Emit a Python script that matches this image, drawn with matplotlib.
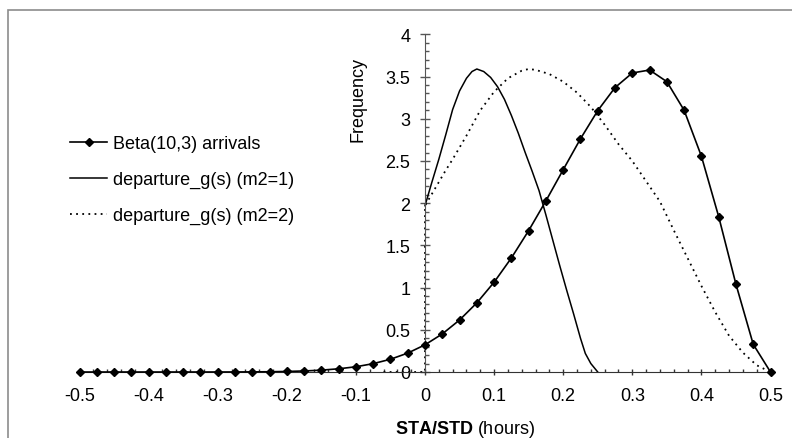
import numpy as np
import matplotlib
matplotlib.use('Agg')
import matplotlib.pyplot as plt
from matplotlib.patches import Rectangle
from matplotlib.ticker import MultipleLocator, FuncFormatter

plt.rcParams['font.family'] = ['Liberation Sans', 'DejaVu Sans']
plt.rcParams['mathtext.fontset'] = 'custom'
plt.rcParams['mathtext.rm'] = 'Liberation Sans'
plt.rcParams['mathtext.bf'] = 'Liberation Sans:bold'

## Beta(10,3) arrivals, one marker every 0.025 h
arr_s = np.round(np.linspace(-0.5, 0.5, 41), 3)
arr_f = [0.0, 0.0, 0.0, 0.0, 0.0, 0.0, 0.0, 0.0001, 0.0002, 0.0006,
         0.0014, 0.0031, 0.0064, 0.0122, 0.022, 0.038, 0.062, 0.099, 0.151, 0.224,
         0.322, 0.451, 0.616, 0.819, 1.064, 1.351, 1.675, 2.028, 2.397, 2.763,
         3.097, 3.370, 3.543, 3.578, 3.440, 3.101, 2.557, 1.841, 1.040, 0.328, 0.0]

## departure_g(s), m2=1
dep1_s = [0.0, 0.01, 0.02, 0.03, 0.04, 0.05, 0.06, 0.068, 0.075, 0.085,
          0.095, 0.105, 0.115, 0.125, 0.135, 0.145, 0.155, 0.165, 0.175, 0.185,
          0.195, 0.205, 0.215, 0.225, 0.232, 0.24, 0.25]
dep1_f = [1.97, 2.25, 2.52, 2.81, 3.11, 3.33, 3.48, 3.56, 3.59, 3.56,
          3.49, 3.38, 3.23, 3.04, 2.83, 2.60, 2.38, 2.15, 1.86, 1.56,
          1.26, 0.97, 0.69, 0.40, 0.22, 0.10, 0.0]

## departure_g(s), m2=2
dep2_s = [-0.06, -0.03, 0.0, 0.0, 0.01, 0.02, 0.03, 0.04, 0.05, 0.06,
          0.08, 0.10, 0.12, 0.14, 0.15, 0.16, 0.18, 0.20, 0.22, 0.24,
          0.26, 0.28, 0.30, 0.32, 0.34, 0.36, 0.38, 0.40, 0.42, 0.44,
          0.46, 0.48, 0.50]
dep2_f = [0.0, 0.0, 0.0, 1.97, 2.11, 2.25, 2.39, 2.52, 2.66, 2.80,
          3.10, 3.32, 3.48, 3.57, 3.59, 3.58, 3.53, 3.44, 3.31, 3.14,
          2.93, 2.70, 2.50, 2.26, 2.02, 1.68, 1.35, 1.02, 0.71, 0.43,
          0.23, 0.08, 0.0]

W, H = 792., 439.
fs = 13
fig = plt.figure(figsize=(W / 100, H / 100), dpi=100)
## grey frame round the chart (right/bottom edges run off the picture)
fig.patches.append(Rectangle((8 / W, -0.05), 1.2, 1 - 11 / H + 0.05,
                             transform=fig.transFigure, fill=False,
                             edgecolor='#8c8c8c', lw=1.2))

ax = fig.add_axes([79.5 / W, 66 / H, 691 / W, 337.6 / H])
ax.set_xlim(-0.5, 0.5)
ax.set_ylim(0, 4)

ax.plot(dep1_s, dep1_f, '-', color='black', lw=1.1,
        label='departure_g(s) (m2=1)')
ax.plot(dep2_s, dep2_f, color='black', lw=1.3, linestyle=(0, (1, 2.4)),
        label='departure_g(s) (m2=2)')
ax.plot(arr_s, arr_f, '-', color='black', lw=1.2, marker='D', ms=4,
        clip_on=False, label='Beta(10,3) arrivals', zorder=5)

## axes cross at zero
for s in ['top', 'right']:
    ax.spines[s].set_visible(False)
ax.spines['left'].set_position(('data', 0))
ax.spines['left'].set_color('#555555')
ax.spines['bottom'].set_color('#333333')

ax.xaxis.set_major_locator(MultipleLocator(0.1))
ax.xaxis.set_minor_locator(MultipleLocator(0.02))
ax.yaxis.set_major_locator(MultipleLocator(0.5))
ax.yaxis.set_minor_locator(MultipleLocator(0.1))
fmt = FuncFormatter(lambda v, p: '%g' % round(v, 3))
ax.xaxis.set_major_formatter(fmt)
ax.yaxis.set_major_formatter(fmt)

ax.tick_params(axis='x', which='major', direction='inout', length=5, width=1,
               pad=8.5, labelsize=fs, color='#333333')
ax.tick_params(axis='x', which='minor', direction='in', length=2.2, width=1,
               color='#333333')
ax.tick_params(axis='y', which='major', direction='inout', length=7, width=1,
               pad=7, labelsize=fs, color='#555555')
ax.tick_params(axis='y', which='minor', direction='in', length=3.2, width=1,
               color='#555555')

ax.set_xlabel(r'$\mathbf{STA/STD}$ (hours)', fontsize=fs)
ax.xaxis.set_label_coords(0.558, -0.135)
ax.text(0.403, 0.809, 'Frequency', transform=ax.transAxes, rotation=90,
        ha='center', va='center', fontsize=fs)

h, l = ax.get_legend_handles_labels()
order = [2, 0, 1]
ax.legend([h[i] for i in order], [l[i] for i in order], loc='upper left',
          bbox_to_anchor=(70 / W, 1 - 136 / H), bbox_transform=fig.transFigure,
          frameon=False, fontsize=fs, numpoints=1, handlelength=2.05,
          handletextpad=0.33, labelspacing=1.05, borderpad=0, borderaxespad=0)

plt.savefig('out.png', dpi=100)
